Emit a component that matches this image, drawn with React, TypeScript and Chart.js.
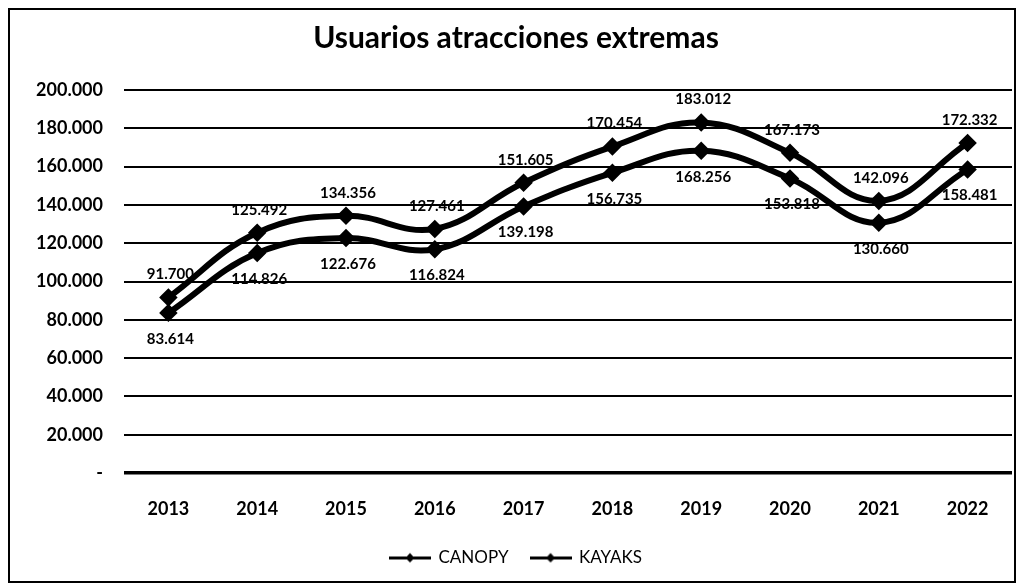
import React, { useEffect, useRef } from "react";
import { Chart, registerables } from "chart.js";

Chart.register(...registerables);

const years = ["2013", "2014", "2015", "2016", "2017", "2018", "2019", "2020", "2021", "2022"];
const canopy = [91700, 125492, 134356, 127461, 151605, 170454, 183012, 167173, 142096, 172332];
const kayaks = [83614, 114826, 122676, 116824, 139198, 156735, 168256, 153818, 130660, 158481];
const yTicks = [0, 20000, 40000, 60000, 80000, 100000, 120000, 140000, 160000, 180000, 200000];

const FONT = "Lato, 'Open Sans', sans-serif";

function fmt(v: number): string {
  if (v === 0) return "-";
  return String(Math.round(v)).replace(/\B(?=(\d{3})+(?!\d))/g, ".");
}

function legendImage(): HTMLCanvasElement {
  const c = document.createElement("canvas");
  c.width = 42;
  c.height = 12;
  const ctx = c.getContext("2d")!;
  ctx.fillStyle = "#000";
  ctx.fillRect(0, 5, 42, 3);
  ctx.beginPath();
  ctx.moveTo(21, 1.5);
  ctx.lineTo(25.5, 6.5);
  ctx.lineTo(21, 11);
  ctx.lineTo(16.5, 6.5);
  ctx.closePath();
  ctx.fill();
  return c;
}

const labelPlugin = {
  id: "valueLabels",
  afterDatasetsDraw(chart: any) {
    const ctx = chart.ctx;
    ctx.save();
    ctx.font = `bold 15px ${FONT}`;
    ctx.fillStyle = "#000";
    ctx.textAlign = "center";
    ctx.textBaseline = "middle";
    chart.data.datasets.forEach((ds: any, di: number) => {
      const meta = chart.getDatasetMeta(di);
      meta.data.forEach((pt: any, i: number) => {
        const dy = di === 0 ? -23 : 26;
        ctx.fillText(fmt(ds.data[i]), pt.x + 2, pt.y + dy);
      });
    });
    ctx.restore();
  },
};

export default function App() {
  const ref = useRef<HTMLCanvasElement>(null);
  useEffect(() => {
    if (!ref.current) return;
    const img = legendImage();
    const chart = new Chart(ref.current, {
      type: "line",
      data: {
        labels: years,
        datasets: [
          {
            label: "CANOPY",
            data: canopy,
            borderColor: "#000",
            backgroundColor: "#000",
            borderWidth: 6,
            tension: 0.4,
            pointStyle: "rectRot",
            pointRadius: 5,
            pointBackgroundColor: "#000",
            pointBorderColor: "#000",
          },
          {
            label: "KAYAKS",
            data: kayaks,
            borderColor: "#000",
            backgroundColor: "#000",
            borderWidth: 6,
            tension: 0.4,
            pointStyle: "rectRot",
            pointRadius: 5,
            pointBackgroundColor: "#000",
            pointBorderColor: "#000",
          },
        ],
      },
      options: {
        animation: false,
        responsive: true,
        maintainAspectRatio: false,
        layout: { autoPadding: false, padding: { top: 0, bottom: 5, left: 10, right: 2 } },
        plugins: {
          title: {
            display: true,
            text: "Usuarios atracciones extremas",
            color: "#000",
            font: { family: FONT, size: 30, weight: "bold" },
            padding: { top: 10, bottom: 34 },
          },
          legend: {
            position: "bottom",
            labels: {
              usePointStyle: true,
              pointStyleWidth: 40,
              padding: 22,
              color: "#000",
              font: { family: FONT, size: 17 },
              generateLabels: (ch: any) =>
                ch.data.datasets.map((ds: any, i: number) => ({
                  text: ds.label,
                  pointStyle: img,
                  fillStyle: "#000",
                  strokeStyle: "#000",
                  lineWidth: 0,
                  hidden: false,
                  datasetIndex: i,
                  fontColor: "#000",
                })),
            },
          },
          tooltip: { enabled: false },
        },
        scales: {
          x: {
            offset: true,
            grid: { display: false },
            border: { display: false },
            ticks: {
              color: "#000",
              padding: 17,
              font: { family: FONT, size: 18, weight: "bold" },
            },
            afterFit: (s: any) => {
              s.height = 54;
              s.paddingLeft = 0;
              s.paddingRight = 0;
            },
          },
          y: {
            min: 0,
            max: 200000,
            border: { display: false },
            grid: {
              color: "#000",
              lineWidth: (c: any) => (c.tick && c.tick.value === 0 ? 3.5 : 2),
              drawTicks: false,
            },
            afterBuildTicks: (s: any) => {
              s.ticks = yTicks.map((v) => ({ value: v }));
            },
            afterFit: (s: any) => {
              s.width = 104;
            },
            ticks: {
              color: "#000",
              padding: 21,
              font: { family: FONT, size: 18, weight: "bold" },
              callback: (v: any) => fmt(Number(v)),
            },
          },
        },
      },
      plugins: [labelPlugin],
    });
    return () => chart.destroy();
  }, []);
  return (
    <div
      style={{
        width: 1008,
        height: 575,
        boxSizing: "border-box",
        border: "2px solid #000",
        background: "#fff",
        position: "relative",
      }}
    >
      <canvas ref={ref} />
    </div>
  );
}
